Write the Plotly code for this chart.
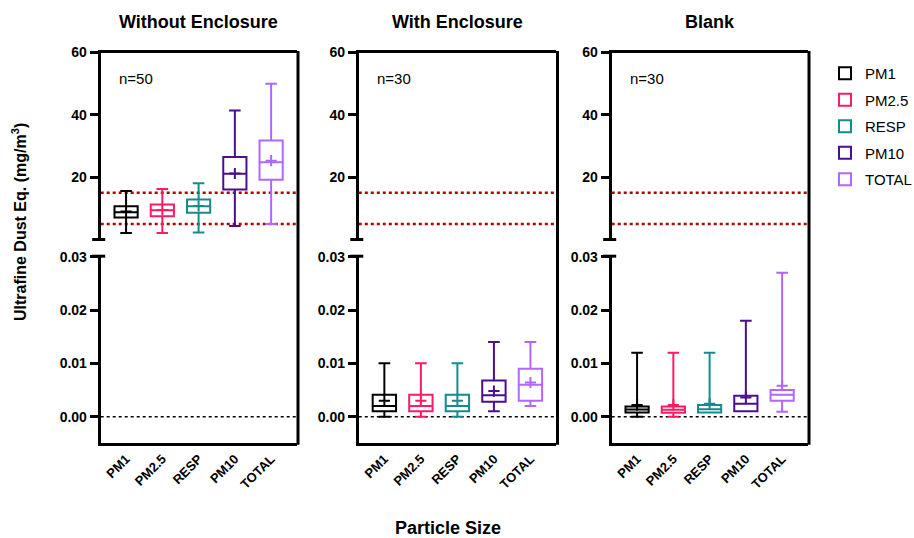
import plotly.graph_objects as go

categories = ["PM1", "PM2.5", "RESP", "PM10", "TOTAL"]
colors = ["#000000", "#ff1a66", "#178a8a", "#4a0e8f", "#b266ff"]

panel_titles = ["Without Enclosure", "With Enclosure", "Blank"]
panel_n = ["n=50", "n=30", "n=30"]

# Without Enclosure
wo_min = [2.1, 2.1, 2.3, 4.4, 5.0]
wo_q1 = [7.1, 7.5, 8.6, 16.1, 19.2]
wo_med = [8.8, 9.4, 10.7, 21.1, 24.8]
wo_q3 = [10.7, 11.3, 12.9, 26.5, 31.8]
wo_max = [15.6, 16.2, 18.1, 41.4, 50.0]
wo_mean = [9.0, 9.5, 10.8, 21.2, 25.3]

# With Enclosure
we_min = [0.0, 0.0, 0.0, 0.001, 0.002]
we_q1 = [0.001, 0.001, 0.001, 0.0028, 0.003]
we_med = [0.002, 0.002, 0.002, 0.004, 0.006]
we_q3 = [0.0041, 0.0041, 0.0041, 0.0068, 0.009]
we_max = [0.010, 0.010, 0.010, 0.014, 0.014]
we_mean = [0.003, 0.003, 0.003, 0.0048, 0.0064]

# Blank
bl_min = [0.0, 0.0, 0.0008, 0.001, 0.0009]
bl_q1 = [0.0008, 0.00075, 0.0008, 0.001, 0.003]
bl_med = [0.00135, 0.0013, 0.0014, 0.0024, 0.0041]
bl_q3 = [0.0019, 0.0019, 0.0022, 0.0039, 0.005]
bl_max = [0.012, 0.012, 0.012, 0.018, 0.027]
bl_mean = [0.0022, 0.0022, 0.0024, 0.0036, 0.0058]

limit_lines = [5, 15]
top_ticks = [20, 40, 60]
bottom_ticks = [0.0, 0.01, 0.02, 0.03]
top_range = [0.2, 60]
bottom_range = [-0.005, 0.03]

panels = [
    (wo_min, wo_q1, wo_med, wo_q3, wo_max, wo_mean),
    (we_min, we_q1, we_med, we_q3, we_max, we_mean),
    (bl_min, bl_q1, bl_med, bl_q3, bl_max, bl_mean),
]

W, H = 914, 538
OFF = 0  # body margin removed below
px_x = [(100.7, 296.5), (358.8, 556.0), (611.7, 807.5)]
top_px = (52.5, 239.0)
bot_px = (256.7, 443.3)


def px2x(v):
    return (v - OFF) / W


def px2y(v):
    return 1 - (v - OFF) / H


top_dom = [px2y(top_px[1]), px2y(top_px[0])]
bot_dom = [px2y(bot_px[1]), px2y(bot_px[0])]

FONT = "Liberation Sans, Arial, sans-serif"
fig = go.Figure()
layout = dict(
    width=W, height=H,
    margin=dict(l=0, r=0, t=0, b=0, autoexpand=False),
    plot_bgcolor="white", paper_bgcolor="white",
    showlegend=True, boxmode="overlay",
    font=dict(family=FONT, color="black"),
)
shapes = []
annotations = []

for p, data in enumerate(panels):
    mn, q1, md, q3, mx, mean = data
    kt, kb = 2 * p + 1, 2 * p + 2
    xdom = [px2x(px_x[p][0]), px2x(px_x[p][1])]
    for k, ydom, is_top in [(kt, top_dom, True), (kb, bot_dom, False)]:
        xa = "x" if k == 1 else f"x{k}"
        ya = "y" if k == 1 else f"y{k}"
        for i, cat in enumerate(categories):
            # draw a box only in the half of the broken axis it reaches
            if is_top and mx[i] < top_range[0]:
                continue
            if (not is_top) and mn[i] > bottom_range[1]:
                continue
            fig.add_trace(go.Box(
                x=[cat], q1=[q1[i]], median=[md[i]], q3=[q3[i]],
                lowerfence=[mn[i]], upperfence=[mx[i]],
                name=cat, legendgroup=cat,
                showlegend=(p == 0 and is_top),
                line=dict(color=colors[i], width=2),
                fillcolor="rgba(255,255,255,0)",
                width=0.64, whiskerwidth=0.5, boxpoints=False,
                xaxis=xa, yaxis=ya, hoverinfo="skip",
            ))
            fig.add_trace(go.Scatter(
                x=[cat], y=[mean[i]], mode="markers",
                marker=dict(symbol="cross-thin", size=8,
                            line=dict(color=colors[i], width=2)),
                showlegend=False, legendgroup=cat,
                xaxis=xa, yaxis=ya, hoverinfo="skip",
            ))
        xkey = "xaxis" if k == 1 else f"xaxis{k}"
        ykey = "yaxis" if k == 1 else f"yaxis{k}"
        xa_cfg = dict(
            domain=xdom, anchor=ya, type="category",
            categoryorder="array", categoryarray=categories,
            range=[-0.7, 4.7], showgrid=False, zeroline=False,
            fixedrange=True,
        )
        if is_top:
            xa_cfg.update(side="top", showline=True, linewidth=3,
                          linecolor="black", showticklabels=False,
                          ticks="")
        else:
            xa_cfg.update(showline=True, linewidth=3, linecolor="black",
                          ticks="", tickangle=-45,
                          tickfont=dict(size=13, family=FONT, weight="bold"))
        layout[xkey] = xa_cfg
        ya_cfg = dict(
            domain=ydom, anchor=xa, showgrid=False, zeroline=False,
            showline=True, linewidth=3, linecolor="black",
            ticks="outside", ticklen=8, tickwidth=3, tickcolor="black",
            tickfont=dict(size=14, family=FONT, weight="bold"),
        )
        if is_top:
            ya_cfg.update(range=top_range, tickvals=top_ticks)
        else:
            ya_cfg.update(range=bottom_range, tickvals=bottom_ticks,
                          tickformat=".2f")
        layout[ykey] = ya_cfg

        if is_top:
            for lv in limit_lines:
                shapes.append(dict(
                    type="line", xref=f"{xa} domain", yref=ya,
                    x0=0, x1=1, y0=lv, y1=lv,
                    line=dict(color="#b00000", width=2.5, dash="dot"),
                    layer="below"))
        else:
            shapes.append(dict(
                type="line", xref=f"{xa} domain", yref=ya,
                x0=0, x1=1, y0=0, y1=0,
                line=dict(color="black", width=1.5, dash="dot"),
                layer="below"))

    # right border continuous
    shapes.append(dict(
        type="line", xref="paper", yref="paper",
        x0=px2x(px_x[p][1] + 1.5), x1=px2x(px_x[p][1] + 1.5),
        y0=px2y(bot_px[1] + 1.5), y1=px2y(top_px[0] - 1.5),
        line=dict(color="black", width=3)))
    # break markers
    ax_left = px_x[p][0] - 1.5
    for yy in [top_px[1] + 0.5, bot_px[0] - 0.5]:
        shapes.append(dict(
            type="line", xref="paper", yref="paper",
            x0=px2x(ax_left - 7), x1=px2x(ax_left + 6),
            y0=px2y(yy), y1=px2y(yy),
            line=dict(color="black", width=3)))

    cx = (px_x[p][0] + px_x[p][1]) / 2
    annotations.append(dict(
        text=panel_titles[p], xref="paper", yref="paper",
        x=px2x(cx), y=px2y(22), showarrow=False,
        font=dict(size=18, family=FONT, weight="bold"),
        xanchor="center", yanchor="middle"))
    annotations.append(dict(
        text=panel_n[p], xref="paper", yref="paper",
        x=px2x(px_x[p][0] + 16), y=px2y(79), showarrow=False,
        font=dict(size=15, family=FONT),
        xanchor="left", yanchor="middle"))

annotations.append(dict(
    text="Ultrafine Dust Eq. (mg/m<sup>3</sup>)", xref="paper", yref="paper",
    x=px2x(19), y=px2y(222), showarrow=False, textangle=-90,
    font=dict(size=16, family=FONT, weight="bold"),
    xanchor="center", yanchor="middle"))
annotations.append(dict(
    text="Particle Size", xref="paper", yref="paper",
    x=px2x(448), y=px2y(528), showarrow=False,
    font=dict(size=18, family=FONT, weight="bold"),
    xanchor="center", yanchor="middle"))

layout["shapes"] = shapes
layout["annotations"] = annotations
layout["legend"] = dict(
    x=px2x(825), y=px2y(57), xanchor="left", yanchor="top",
    font=dict(size=15, family=FONT), tracegroupgap=4,
    bgcolor="rgba(0,0,0,0)")
fig.update_layout(**layout)
fig.write_html(
    "out.html",
    config={"displayModeBar": False, "staticPlot": True},
    post_script="document.body.style.margin='0';"
                "document.body.style.overflow='hidden';",
)
